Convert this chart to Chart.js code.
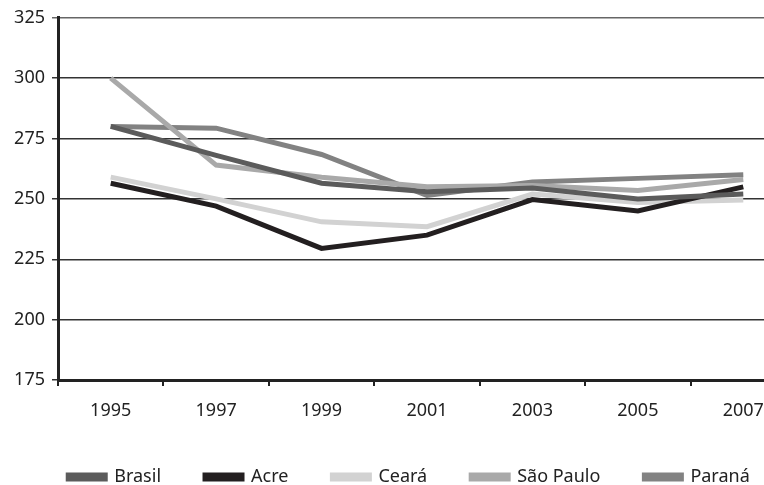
<!DOCTYPE html>
<html>
<head>
<meta charset="utf-8">
<script src="https://cdn.jsdelivr.net/npm/chart.js@4/dist/chart.umd.min.js"></script>
<style>
  html, body { margin: 0; padding: 0; overflow: hidden; background: #fff; }
  #wrap { width: 800px; height: 496px; }
</style>
</head>
<body>
<div id="wrap"><canvas id="plot"></canvas></div>
<script>
// anos e valores
const years = ["1995", "1997", "1999", "2001", "2003", "2005", "2007"];
const brasil   = [280, 268, 256.5, 253, 254.5, 250, 252];
const acre     = [256.5, 247, 229.5, 235, 249.7, 245, 255];
const ceara    = [259, 250, 240.5, 238.5, 252, 248.5, 249.5];
const saoPaulo = [300, 264, 259, 255, 255.5, 253.5, 258];
const parana   = [280, 279.3, 268.4, 251.4, 257, 258.5, 260];
const yTicks = [175, 200, 225, 250, 275, 300, 325];

const seriesNames  = ["Brasil", "Acre", "Ceará", "São Paulo", "Paraná"];
const seriesValues = [brasil, acre, ceara, saoPaulo, parana];
const seriesColors = ["#5b5b5b", "#231f20", "#d2d2d2", "#a9a9a9", "#828282"];

Chart.defaults.font.family = "'Noto Sans', sans-serif";
Chart.defaults.font.size = 18;
Chart.defaults.color = "#222";

const datasets = seriesNames.map((name, i) => ({
    label: name,
    data: seriesValues[i],
    borderColor: seriesColors[i],
    backgroundColor: seriesColors[i],
    borderWidth: 5,
    pointRadius: 0,
    tension: 0,
    fill: false
}));

// slide the whole legend box a bit to the right (the plot is cut on the right edge)
const legendShift = {
    id: "legendShift",
    beforeDraw(chart) {
        if (!chart.legend) return;
        chart.legend.left = 11;
        chart.legend.right = chart.chartArea.right + 11;
    }
};

new Chart(document.getElementById("plot"), {
    type: "line",
    data: { labels: years, datasets: datasets },
    plugins: [legendShift],
    options: {
        responsive: true,
        maintainAspectRatio: false,
        animation: false,
        layout: { padding: { top: 17, left: 0, right: 4, bottom: 0 } },
        plugins: {
            tooltip: { enabled: false },
            legend: {
                position: "bottom",
                labels: {
                    boxWidth: 37,
                    boxHeight: 4,
                    padding: 44,
                    color: "#222",
                    font: { size: 18 }
                }
            }
        },
        scales: {
            x: {
                offset: true,
                grid: {
                    offset: true,
                    drawOnChartArea: false,
                    drawTicks: true,
                    tickLength: 6,
                    color: "#222",
                    lineWidth: 2
                },
                border: { color: "#222", width: 3 },
                ticks: { padding: 14, color: "#222", font: { size: 18 } },
                afterFit: (scale) => { scale.height = 44; }
            },
            y: {
                min: 175,
                max: 325,
                afterBuildTicks: (scale) => {
                    scale.ticks = yTicks.map(v => ({ value: v }));
                },
                grid: {
                    color: (ctx) => ctx.tick && ctx.tick.value === 325 ? "#666" : "#333",
                    lineWidth: 1.5,
                    tickLength: 6
                },
                border: { color: "#222", width: 3 },
                ticks: { padding: 7, color: "#222", font: { size: 18 } },
                afterFit: (scale) => { scale.width = 58; }
            }
        }
    }
});
</script>
</body>
</html>
